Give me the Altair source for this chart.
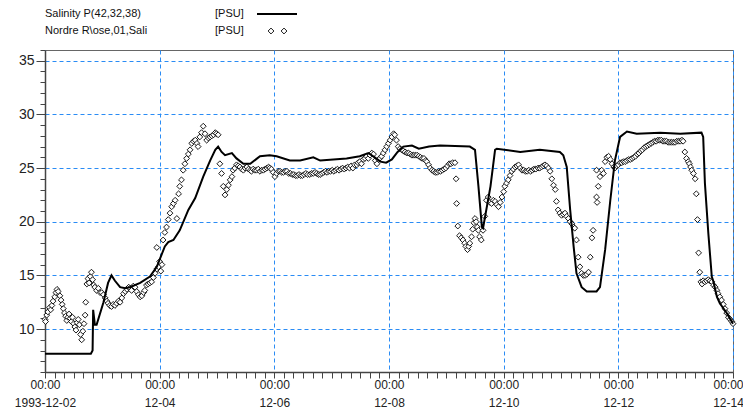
import altair as alt
import pandas as pd

# Model salinity line (time in days since 1993-12-02 00:00, value in PSU)
model_t = [0.00, 0.80, 0.83, 0.84, 0.87, 0.90, 1.02, 1.10, 1.16, 1.22, 1.31, 1.40, 1.48,
           1.66, 1.83, 1.95, 2.09, 2.15, 2.24, 2.35, 2.50, 2.62, 2.76, 2.88, 2.97, 3.02,
           3.08, 3.14, 3.26, 3.34, 3.46, 3.58, 3.75, 3.92, 4.04, 4.27, 4.45, 4.68, 4.80,
           5.26, 5.49, 5.64, 5.75, 5.85, 5.95, 6.05, 6.15, 6.25, 6.40, 6.52, 6.70, 6.89,
           7.41, 7.50, 7.56, 7.62, 7.64, 7.77, 7.85, 7.88, 8.29, 8.63, 8.98, 9.04, 9.10,
           9.16, 9.22, 9.27, 9.36, 9.45, 9.62, 9.68, 9.77, 9.86, 9.94, 10.03, 10.15, 10.32,
           10.73, 11.08, 11.45, 11.48, 11.51, 11.57, 11.63, 11.66, 11.72, 11.77, 11.89, 12.00]
model_v = [7.7, 7.7, 8.0, 11.8, 10.4, 10.4, 12.5, 14.3, 15.0, 14.5, 13.9, 13.8, 13.9,
           14.3, 14.9, 15.8, 17.7, 18.1, 18.3, 19.2, 21.1, 22.2, 24.2, 25.7, 26.7, 27.0,
           26.5, 26.2, 26.4, 25.9, 25.4, 25.4, 26.1, 26.2, 26.1, 25.7, 25.7, 26.0, 25.7,
           25.9, 26.1, 26.4, 26.0, 25.6, 25.5, 25.8, 26.5, 27.0, 27.1, 26.8, 27.0, 27.1,
           27.0, 26.7, 23.3, 19.5, 19.4, 23.3, 26.7, 26.8, 26.5, 26.7, 26.5, 26.2, 25.1,
           21.1, 17.7, 15.2, 13.9, 13.5, 13.5, 13.9, 17.4, 22.0, 25.7, 27.9, 28.4, 28.2,
           28.3, 28.2, 28.3, 27.9, 23.6, 18.9, 14.9, 14.4, 13.0, 12.4, 11.5, 10.5]

# Observations "Nordre R\ose,01,Sali"
obs_t = [0.00, 0.01, 0.03, 0.05, 0.08, 0.10, 0.12, 0.14, 0.17, 0.19, 0.21, 0.23, 0.26, 0.28,
         0.30, 0.32, 0.34, 0.36, 0.38, 0.40, 0.42, 0.44, 0.46, 0.48, 0.50, 0.52, 0.54, 0.56,
         0.58, 0.60, 0.62, 0.64, 0.66, 0.68, 0.70, 0.71, 0.73, 0.75, 0.77, 0.79, 0.81, 0.83,
         0.85, 0.87, 0.90, 0.93, 0.96, 0.99, 1.02, 1.05, 1.08, 1.10, 1.13, 1.16, 1.19, 1.22,
         1.25, 1.28, 1.31, 1.34, 1.37, 1.40, 1.43, 1.46, 1.48, 1.51, 1.54, 1.57, 1.60, 1.63,
         1.66, 1.69, 1.72, 1.74, 1.77, 1.80, 1.83, 1.86, 1.89, 1.92, 1.95, 1.98, 2.00, 2.02,
         2.04, 1.95, 2.06, 2.09, 2.12, 2.15, 2.18, 2.21, 2.24, 2.27, 2.30, 2.33, 2.35, 2.38,
         2.41, 2.44, 2.47, 2.50, 2.53, 2.56, 2.59, 2.62, 2.65, 2.67, 2.70, 2.73, 2.76, 2.79,
         2.82, 2.85, 2.88, 2.91, 2.94, 2.97, 2.99, 3.02, 3.05, 3.08, 3.11, 3.14, 3.17, 3.20,
         3.23, 3.26, 3.28, 3.31, 3.34, 3.37, 3.40, 3.43, 3.46, 3.49, 3.52, 3.55, 3.58, 3.60,
         3.63, 3.66, 3.69, 3.72, 3.75, 3.78, 3.81, 3.84, 3.87, 3.90, 3.92, 3.95, 3.98, 4.01,
         4.04, 4.07, 4.10, 4.13, 4.16, 4.19, 4.22, 4.25, 4.28, 4.31, 4.34, 4.37, 4.40, 4.43,
         4.46, 4.49, 4.52, 4.55, 4.58, 4.62, 4.65, 4.68, 4.71, 4.74, 4.77, 4.80, 4.83, 4.86,
         4.89, 4.92, 4.95, 4.98, 5.01, 5.04, 5.07, 5.10, 5.13, 5.16, 5.19, 5.22, 5.25, 5.28,
         5.31, 5.34, 5.37, 5.40, 5.44, 5.46, 5.49, 5.52, 5.55, 5.58, 5.61, 5.64, 5.67, 5.70,
         5.73, 5.76, 5.79, 5.82, 5.84, 5.87, 5.90, 5.93, 5.96, 5.99, 6.02, 6.05, 6.08, 6.10,
         6.13, 6.16, 6.19, 6.22, 6.25, 6.28, 6.31, 6.34, 6.37, 6.40, 6.43, 6.46, 6.49, 6.52,
         6.55, 6.58, 6.61, 6.64, 6.66, 6.69, 6.72, 6.75, 6.78, 6.81, 6.84, 6.87, 6.90, 6.93,
         6.96, 6.99, 7.02, 7.05, 7.08, 7.11, 7.15, 7.17, 7.18, 7.20, 7.23, 7.26, 7.29, 7.32,
         7.34, 7.37, 7.39, 7.41, 7.44, 7.46, 7.48, 7.50, 7.52, 7.54, 7.56, 7.58, 7.61, 7.64,
         7.67, 7.70, 7.73, 7.76, 7.79, 7.82, 7.85, 7.88, 7.91, 7.94, 7.97, 8.00, 8.02, 8.05,
         8.08, 8.11, 8.14, 8.17, 8.20, 8.23, 8.26, 8.29, 8.32, 8.35, 8.38, 8.41, 8.44, 8.47,
         8.50, 8.53, 8.56, 8.60, 8.63, 8.66, 8.69, 8.72, 8.75, 8.78, 8.81, 8.84, 8.87, 8.90,
         8.92, 8.95, 8.98, 9.01, 9.04, 9.07, 9.10, 9.13, 9.16, 9.19, 9.22, 9.24, 9.27, 9.30,
         9.33, 9.36, 9.39, 9.42, 9.45, 9.48, 9.51, 9.54, 9.56, 9.62, 9.63, 9.65, 9.62, 9.68,
         9.71, 9.74, 9.77, 9.80, 9.83, 9.86, 9.89, 9.92, 9.94, 9.97, 10.00, 10.03, 10.06, 10.09,
         10.12, 10.15, 10.18, 10.21, 10.24, 10.27, 10.30, 10.33, 10.36, 10.39, 10.42, 10.45,
         10.48, 10.51, 10.54, 10.57, 10.60, 10.63, 10.66, 10.69, 10.72, 10.75, 10.78, 10.81,
         10.84, 10.87, 10.90, 10.93, 10.96, 10.99, 11.02, 11.05, 11.08, 11.11, 11.13, 11.16,
         11.19, 11.22, 11.24, 11.26, 11.28, 11.31, 11.34, 11.36, 11.38, 11.40, 11.42, 11.44,
         11.46, 11.48, 11.51, 11.54, 11.57, 11.60, 11.63, 11.66, 11.69, 11.72, 11.74, 11.77,
         11.80, 11.83, 11.86, 11.89, 11.92, 11.95, 11.98, 12.00]
obs_v = [10.9, 10.7, 11.3, 11.6, 12.0, 11.8, 12.2, 12.6, 13.0, 13.4, 13.7, 13.5, 13.1, 12.7,
         12.3, 11.9, 11.5, 11.2, 10.8, 11.1, 11.4, 11.0, 10.7, 11.1, 10.5, 10.2, 9.9, 10.6,
         10.9, 10.4, 9.5, 9.0, 9.8, 10.5, 11.3, 12.5, 14.2, 14.7, 14.3, 14.9, 15.3, 14.6,
         14.1, 13.9, 13.6, 13.8, 13.4, 13.4, 13.2, 12.9, 12.6, 12.4, 12.2, 12.1, 12.3, 12.2,
         12.4, 12.6, 12.5, 12.9, 13.3, 13.5, 13.7, 13.9, 13.8, 13.6, 14.0, 13.9, 13.5, 13.2,
         13.0, 13.1, 13.4, 13.6, 14.1, 14.2, 14.3, 14.4, 14.8, 15.2, 15.6, 15.8, 16.3, 15.4,
         16.0, 17.6, 18.3, 19.0, 19.5, 20.2, 20.8, 21.4, 21.7, 22.0, 20.3, 22.6, 23.3, 23.9,
         24.8, 25.4, 25.9, 26.3, 26.7, 27.3, 27.5, 27.6, 27.3, 27.0, 27.9, 28.3, 28.9, 28.2,
         27.6, 27.8, 27.9, 28.0, 28.1, 28.3, 28.2, 28.1, 25.4, 24.5, 23.3, 22.5, 23.0, 23.4,
         23.9, 24.2, 24.8, 25.0, 25.3, 25.2, 25.1, 24.9, 24.8, 25.0, 25.1, 24.9, 24.8, 24.7,
         24.9, 24.8, 24.8, 24.9, 24.7, 24.8, 24.8, 24.9, 25.0, 25.1, 25.0, 24.9, 24.6, 24.2,
         24.5, 24.7, 24.7, 24.6, 24.6, 24.7, 24.7, 24.5, 24.5, 24.4, 24.4, 24.3, 24.3, 24.4,
         24.3, 24.3, 24.4, 24.5, 24.4, 24.4, 24.5, 24.5, 24.6, 24.5, 24.4, 24.4, 24.5, 24.6,
         24.7, 24.6, 24.7, 24.7, 24.8, 24.7, 24.8, 24.9, 24.8, 24.9, 25.0, 24.9, 25.0, 25.1,
         25.0, 25.2, 25.0, 25.3, 25.3, 25.5, 25.6, 25.4, 25.8, 25.9, 26.1, 25.9, 26.2, 26.4,
         26.3, 25.7, 25.4, 25.8, 25.9, 26.1, 26.4, 26.7, 27.0, 27.3, 27.6, 27.9, 28.2, 28.1,
         27.6, 27.0, 26.8, 26.7, 26.6, 26.5, 26.4, 26.4, 26.3, 26.2, 26.2, 26.2, 26.2, 26.1,
         26.0, 25.9, 25.9, 25.7, 25.6, 25.3, 25.0, 24.8, 24.7, 24.6, 24.6, 24.7, 24.7, 24.8,
         24.9, 25.0, 25.2, 25.4, 25.4, 25.5, 25.5, 24.0, 21.7, 19.6, 18.7, 18.5, 18.3, 18.0,
         17.7, 17.4, 17.7, 18.0, 18.6, 19.3, 19.9, 20.3, 20.0, 19.5, 19.2, 18.6, 18.3, 19.2,
         20.5, 22.0, 22.3, 21.8, 21.7, 22.0, 21.9, 21.6, 21.4, 21.8, 22.3, 22.8, 23.3, 23.6,
         23.9, 24.3, 24.7, 24.9, 25.1, 25.2, 25.3, 25.0, 24.8, 24.8, 24.7, 24.7, 24.8, 24.7,
         24.8, 24.9, 24.9, 25.0, 25.0, 25.1, 25.2, 25.3, 25.2, 25.0, 24.7, 24.0, 23.4, 23.0,
         21.9, 21.1, 20.8, 20.6, 20.7, 20.8, 20.5, 20.3, 20.0, 19.8, 19.5, 19.4, 18.3, 16.7,
         15.8, 15.2, 15.0, 15.0, 15.1, 15.3, 16.7, 18.5, 19.2, 22.3, 21.8, 23.3, 24.8, 24.2,
         24.8, 24.5, 25.6, 26.0, 26.1, 25.8, 25.4, 25.1, 25.0, 25.2, 25.3, 25.5, 25.5, 25.6,
         25.6, 25.7, 25.8, 25.8, 25.9, 26.0, 26.1, 26.3, 26.4, 26.6, 26.7, 26.9,
         27.0, 27.1, 27.2, 27.3, 27.4, 27.5, 27.5, 27.6, 27.6, 27.6, 27.5, 27.5,
         27.5, 27.4, 27.4, 27.4, 27.4, 27.4, 27.5, 27.5, 27.5, 27.6, 27.5, 26.5,
         25.9, 25.6, 25.4, 25.1, 24.8, 24.5, 24.0, 22.6, 20.2, 17.1, 15.3, 14.4,
         14.2, 14.5, 14.4, 14.5, 14.6, 14.5, 14.4, 14.1, 13.9, 13.6, 13.3, 13.0,
         12.7, 12.3, 11.9, 11.5, 11.1, 10.9, 10.7, 10.5]

legend_labels = ["Salinity P(42,32,38)", "Nordre R\\ose,01,Sali"]
legend_units = ["[PSU]", "[PSU]"]

model = pd.DataFrame({"h": [t * 24 for t in model_t], "v": model_v})
obs = pd.DataFrame({"h": [t * 24 for t in obs_t], "v": obs_v})

FONT = "Liberation Sans"
GRID = "#2a8cf5"

x_ticks = list(range(0, 289, 4))
y_ticks = list(range(6, 37))

xscale = alt.Scale(domain=[0, 288], nice=False, zero=False)
yscale = alt.Scale(domain=[6, 36], nice=False, zero=False)

xaxis = alt.Axis(
    values=x_ticks, title=None, grid=True, gridColor=GRID, gridDash=[4, 3], gridWidth=1,
    gridOpacity={"condition": {"test": "datum.value % 48 === 0", "value": 1}, "value": 0},
    labelExpr=("datum.value % 48 === 0 ? ['00:00', datum.value === 0 ? '1993-12-02' : "
               "'12-' + ((2 + datum.value/24) < 10 ? '0' : '') + (2 + datum.value/24)] : ''"),
    labelOffset={"condition": {"test": "datum.value === 288", "value": -5}, "value": 0},
    labelOverlap=False, labelFlush=False, labelFont=FONT, labelFontSize=12,
    labelColor="#222", labelPadding=1, labelLineHeight=18,
    tickSize=6, tickColor="#444", domainColor="#444", domainWidth=1.5,
)
yaxis = alt.Axis(
    values=y_ticks, title=None, grid=True, gridColor=GRID, gridDash=[4, 3], gridWidth=1,
    gridOpacity={"condition": {"test": "datum.value % 5 === 0", "value": 1}, "value": 0},
    tickSize={"condition": {"test": "datum.value % 5 === 0", "value": 9}, "value": 5},
    labelExpr="datum.value % 5 === 0 ? datum.label : ''",
    labelOverlap=False, labelFlush=False, labelFont=FONT, labelFontSize=14,
    labelColor="#222", labelPadding=2,
    tickColor="#444", domainColor="#444", domainWidth=1.5,
)

points = alt.Chart(obs).mark_point(
    shape="diamond", size=34, fill="white", fillOpacity=1, stroke="black", strokeWidth=0.9
).encode(
    x=alt.X("h:Q", scale=xscale, axis=xaxis),
    y=alt.Y("v:Q", scale=yscale, axis=yaxis),
)

line = alt.Chart(model).mark_line(color="black", strokeWidth=2).encode(
    x=alt.X("h:Q", scale=xscale, axis=xaxis),
    y=alt.Y("v:Q", scale=yscale, axis=yaxis),
)

one = pd.DataFrame({"k": [0]})
leg_style = dict(align="left", baseline="middle", font=FONT, fontSize=11, color="#111")
leg1 = alt.Chart(one).mark_text(**leg_style).encode(
    x=alt.value(0), y=alt.value(-36), text=alt.value(legend_labels[0]))
leg2 = alt.Chart(one).mark_text(**leg_style).encode(
    x=alt.value(0), y=alt.value(-19), text=alt.value(legend_labels[1]))
unit1 = alt.Chart(one).mark_text(**leg_style).encode(
    x=alt.value(170), y=alt.value(-36), text=alt.value(legend_units[0]))
unit2 = alt.Chart(one).mark_text(**leg_style).encode(
    x=alt.value(170), y=alt.value(-19), text=alt.value(legend_units[1]))
leg_line = alt.Chart(one).mark_rule(color="black", strokeWidth=2).encode(
    x=alt.value(212), x2=alt.value(252), y=alt.value(-36))
leg_d1 = alt.Chart(one).mark_point(
    shape="diamond", size=34, fill="white", fillOpacity=1, stroke="black", strokeWidth=0.9
).encode(x=alt.value(226), y=alt.value(-19))
leg_d2 = alt.Chart(one).mark_point(
    shape="diamond", size=34, fill="white", fillOpacity=1, stroke="black", strokeWidth=0.9
).encode(x=alt.value(239), y=alt.value(-19))

chart = alt.layer(
    points, line, leg1, leg2, unit1, unit2, leg_line, leg_d1, leg_d2
).properties(
    width=688, height=322,
    padding={"left": 37, "top": 42, "right": 10, "bottom": 40},
    autosize=alt.AutoSizeParams(type="none"),
    background="white",
).configure_view(stroke="#666", strokeWidth=1)

chart.save("out.html", embed_options={"renderer": "svg", "actions": False})
